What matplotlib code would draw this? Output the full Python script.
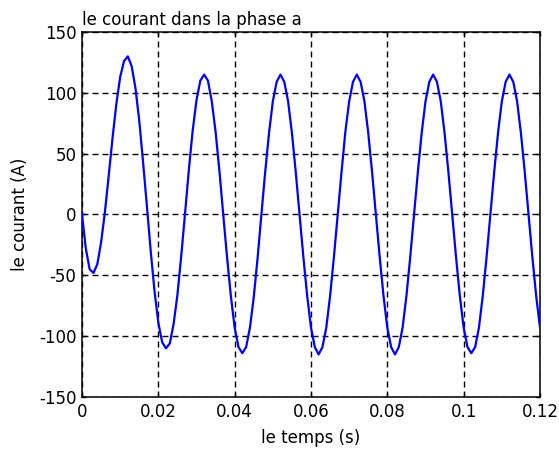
import numpy as np
import matplotlib
matplotlib.use("Agg")
import matplotlib.pyplot as plt

# Phase-a current sampled every millisecond (A), from t = 0 to 0.12 s
courant = [
    0, -28, -45, -48, -41, -23, 2, 32, 63, 91,
    113, 126, 130, 122, 104, 77, 43, 7, -30, -63,
    -89, -105, -110, -106, -90, -66, -34, 1, 37, 69,
    94, 110, 115, 110, 93, 68, 36, 0, -35, -67,
    -93, -109, -114, -109, -93, -68, -36, 0, 35, 67,
    93, 109, 115, 109, 93, 67, 35, 0, -35, -67,
    -93, -109, -115, -109, -93, -67, -35, 0, 35, 68,
    93, 109, 115, 109, 93, 67, 35, 0, -35, -67,
    -93, -109, -115, -109, -93, -67, -35, 0, 35, 67,
    93, 109, 115, 109, 93, 67, 35, 0, -35, -67,
    -93, -109, -114, -109, -93, -67, -35, 0, 35, 67,
    93, 109, 115, 109, 93, 67, 35, 0, -35, -67,
    -93,
]
t_fin = 0.12
xticks = [0, 0.02, 0.04, 0.06, 0.08, 0.1, 0.12]
xticklabels = ["0", "0.02", "0.04", "0.06", "0.08", "0.1", "0.12"]
yticks = [-150, -100, -50, 0, 50, 100, 150]
yticklabels = ["-150", "-100", "-50", "0", "50", "100", "150"]

plt.rcParams["font.family"] = ["DejaVu Sans"]
plt.rcParams["axes.unicode_minus"] = False
plt.rcParams["lines.scale_dashes"] = False

fs = 12

fig = plt.figure(figsize=(5.59, 4.5), dpi=100)
ax = fig.add_axes([0.1467, 0.1178, 0.8193, 0.8111])

t = np.linspace(0, t_fin, len(courant))
ax.plot(t, courant, color="#0000ff", linewidth=1.6, zorder=3)

ax.set_xlim(0, t_fin)
ax.set_ylim(-150, 150)
ax.set_xticks(xticks)
ax.set_xticklabels(xticklabels)
ax.set_yticks(yticks)
ax.set_yticklabels(yticklabels)

ax.grid(True, color="black", linestyle=(0, (4.3, 2.9)), linewidth=1.0)
ax.tick_params(direction="in", length=3, width=1, top=True, right=True,
               labelsize=fs, colors="black")
ax.tick_params(axis="x", pad=4)
ax.tick_params(axis="y", pad=4)
for s in ax.spines.values():
    s.set_linewidth(1.1)
    s.set_color("black")

ax.set_title("le courant dans la phase a", loc="left", fontsize=fs, pad=5)
ax.set_xlabel("le temps (s)", fontsize=fs, labelpad=6)
ax.set_ylabel("le courant (A)", fontsize=fs, labelpad=7)

fig.savefig("out.png", dpi=100, facecolor="white")
